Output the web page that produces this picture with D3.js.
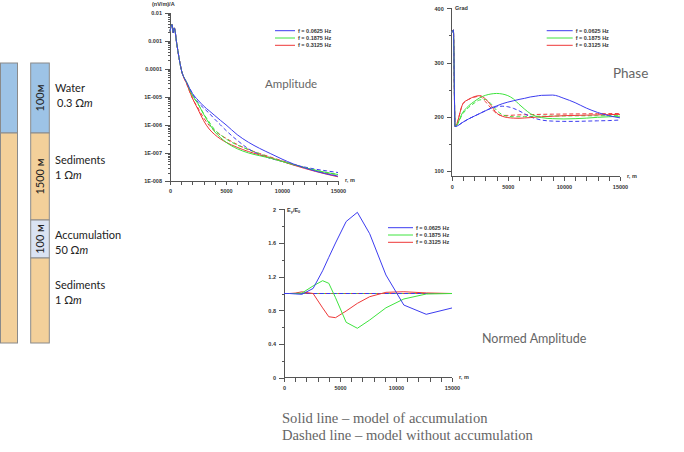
<!DOCTYPE html>
<html>
<head>
<meta charset="utf-8">
<script src="https://cdn.jsdelivr.net/npm/d3@7"></script>
<style>
body{margin:0;background:#fff}
svg{display:block}
.axis path,.axis line{stroke:#555;stroke-width:1;shape-rendering:crispEdges}
.axis text{font-family:"Liberation Sans",Arial,sans-serif;font-size:5.5px;font-weight:bold;fill:#333}
.small{font-family:"Liberation Sans",Arial,sans-serif;font-size:5.5px;font-weight:bold;fill:#333}
.lbl{font-family:Lato,"Open Sans",sans-serif;fill:#222}
.ttl{font-family:Lato,"Open Sans",sans-serif;fill:#666}
</style>
</head>
<body>
<script>
const WIDTH=684, HEIGHT=452;

const FREQS=["f = 0.0625 Hz","f = 0.1875 Hz","f = 0.3125 Hz"];
const COLORS=["#3c3cf0","#3ee43e","#ee3838"];

// amplitude, (nV/m)/A
const ampR=[0,180,300,380,600,800,1000,1500,2000,2500,3000,3500,4000,4500,5000,6000,7000,8000,9000,10000,11000,12000,13000,14000,15000];
const ampBlue=[2.14e-3,3.72e-3,1.86e-3,2.82e-3,7.94e-4,2.51e-4,9.55e-5,3.16e-5,1.32e-5,7.59e-6,4.68e-6,3.16e-6,2.14e-6,1.45e-6,1.0e-6,4.47e-7,2.40e-7,1.45e-7,9.33e-8,6.03e-8,4.07e-8,2.95e-8,2.24e-8,1.78e-8,1.48e-8];
const ampBlueDash=[2.14e-3,3.72e-3,1.86e-3,2.82e-3,7.94e-4,2.51e-4,9.55e-5,3.16e-5,1.32e-5,6.31e-6,3.98e-6,2.57e-6,1.58e-6,1.0e-6,6.31e-7,2.82e-7,1.41e-7,8.71e-8,6.31e-8,5.01e-8,3.80e-8,3.16e-8,2.63e-8,2.29e-8,2.0e-8];
const ampGreen=[2.14e-3,3.72e-3,1.86e-3,2.82e-3,7.94e-4,2.51e-4,9.55e-5,3.16e-5,1.12e-5,5.62e-6,2.40e-6,1.12e-6,5.62e-7,3.55e-7,2.40e-7,1.41e-7,1.0e-7,7.94e-8,6.46e-8,5.01e-8,3.89e-8,3.02e-8,2.40e-8,2.0e-8,1.70e-8];
const ampGreenDash=[2.14e-3,3.72e-3,1.86e-3,2.82e-3,7.94e-4,2.51e-4,9.55e-5,3.16e-5,1.12e-5,5.62e-6,2.51e-6,1.26e-6,6.61e-7,4.47e-7,3.16e-7,1.91e-7,1.32e-7,9.33e-8,6.76e-8,5.01e-8,3.80e-8,3.02e-8,2.40e-8,2.0e-8,1.70e-8];
const ampRed=[2.14e-3,3.72e-3,1.86e-3,2.82e-3,7.94e-4,2.51e-4,9.55e-5,2.82e-5,8.91e-6,3.55e-6,1.41e-6,7.08e-7,4.47e-7,3.16e-7,2.40e-7,1.58e-7,1.12e-7,8.51e-8,6.61e-8,5.01e-8,3.72e-8,2.82e-8,2.19e-8,1.74e-8,1.41e-8];
const ampRedDash=[2.14e-3,3.72e-3,1.86e-3,2.82e-3,7.94e-4,2.51e-4,9.55e-5,2.82e-5,8.91e-6,3.98e-6,1.78e-6,9.55e-7,6.03e-7,4.37e-7,3.31e-7,2.0e-7,1.32e-7,9.55e-8,7.08e-8,5.25e-8,3.98e-8,3.02e-8,2.34e-8,1.86e-8,1.51e-8];
const ampTicks=[1e-2,1e-3,1e-4,1e-5,1e-6,1e-7,1e-8];
const ampTickLabels=["0.01","0.001","0.0001","1E-005","1E-006","1E-007","1E-008"];

// phase, grad
const phR=[0,150,300,1000,1500,2000,2500,3000,3500,4000,4500,5000,5500,6000,6500,7000,7500,8000,9000,10000,11000,12000,13000,14000,15000];
const phBlue=[355,360,182,190,196,201,206,211,216,220,224,227,229.5,232,234,236.5,238,239.5,240,234,226,216,208,202,198];
const phBlueDash=[355,360,182,190,196,201,206,211,215.5,218.5,219.5,218.5,215.5,211,205.5,200,196.5,194,192,191.5,191.5,192,192.5,193,194];
const phGreen=[355,360,182,208.5,220,228,235,239.5,242,243,242,239,233,223,214,206,201,198.5,196.5,196,196.5,197.5,199,200,201];
const phGreenDash=[355,360,182,206,217,225,231,232,224,212,204,201,200,200,200.2,200.5,200.8,201,201.3,201.5,201.7,201.8,201.9,202,202];
const phRed=[355,360,182,224,232,237,239,233,221,207,201,198.5,197.5,197.2,197.8,198.5,199.3,200,201,202,202.5,203,203.5,204,204.5];
const phRedDash=[355,360,182,224,232,236,238,228,216,206,202.5,202.5,203,203.5,203.8,204,204.2,204.5,204.8,205,205.2,205.4,205.6,205.8,206];

// normed amplitude Ey/E0
const nmR=[0,500,1000,1600,2600,3450,4000,4600,5550,6550,7650,9100,10700,12700,15000];
const nmBlue=[1.0,1.0,0.995,0.99,1.06,1.27,1.43,1.6,1.855,1.964,1.71,1.22,0.863,0.753,0.828];
const nmGreen=[1.0,1.0,1.0,1.005,1.09,1.152,1.121,0.95,0.658,0.587,0.685,0.83,0.935,0.994,1.0];
const nmRed=[1.0,1.0,1.005,1.02,1.0,0.829,0.724,0.713,0.792,0.883,0.962,1.014,1.021,1.007,1.0];
const nmRefR=[0,15000];
const nmRef=[1.0,1.0];

// geoelectric model
const layers1=[{fill:"#9dc3e6",h:70},{fill:"#f3d09a",h:210}];
const layers2=[{fill:"#9dc3e6",h:70,tag:"100м"},{fill:"#f3d09a",h:87,tag:"1500 м"},{fill:"#dae3f3",h:38,tag:"100 м"},{fill:"#f3d09a",h:85,tag:""}];
const modelText=[["Water","0.3 "],["Sediments","1 "],["Accumulation","50 "],["Sediments","1 "]];

let svg=d3.select("body").append("svg").attr("width",WIDTH).attr("height",HEIGHT);

function panel(o){
    let g=svg.append("g");
    let x=d3.scaleLinear().domain([0,15000]).range([o.x0,o.x1]);
    let y=o.y;
    // x axis
    let gx=g.append("g").attr("class","axis").attr("transform",`translate(0,${o.yAxis})`)
        .call(d3.axisBottom(x).tickValues(d3.range(0,15001,1000)).tickSize(4).tickPadding(4)
            .tickFormat(d=>d%5000===0?d:""));
    gx.select(".domain").attr("d",`M${o.x0},0H${o.x1}`);
    // y axis
    let gy=g.append("g").attr("class","axis").attr("transform",`translate(${o.x0},0)`)
        .call(d3.axisLeft(y).tickValues(o.yTicks).tickSize(5).tickPadding(3).tickFormat(o.yFormat));
    gy.select(".domain").attr("d",`M0,${o.yTop}V${o.yAxis}`);
    gy.selectAll(".tick").filter(d=>o.yFormat(d)==="").select("line").attr("x2",-2.5);

    g.append("text").attr("class","small").attr("x",o.x1+7).attr("y",o.yAxis+1).text("r, m");

    let line=(xs)=>d3.line().x((d,i)=>x(xs[i])).y(d=>y(d)).curve(o.curve);
    o.series.forEach(s=>{
        g.append("path").datum(s.v)
            .attr("d",line(s.r))
            .attr("fill","none")
            .attr("stroke",s.c)
            .attr("stroke-width",1)
            .attr("stroke-dasharray",s.dash?"4,2.5":null)
            .attr("stroke-dashoffset",s.off||0);
    });
    // legend
    FREQS.forEach((f,i)=>{
        let ly=o.legY+i*7.3;
        g.append("line").attr("x1",o.legX).attr("x2",o.legX+o.legW).attr("y1",ly).attr("y2",ly)
            .attr("stroke",COLORS[i]).attr("stroke-width",1);
        g.append("text").attr("class","small").attr("x",o.legX+o.legW+3).attr("y",ly+2).text(f);
    });
    return g;
}

function sol(r,v,i){return {r:r,v:v,c:COLORS[i]};}
function dsh(r,v,i,off){return {r:r,v:v,c:COLORS[i],dash:true,off:off||0};}

// Amplitude
let yAmp=d3.scaleLog().domain([1e-8,1e-2]).range([181,12.5]);
let ampMinor=[];
for(let k=-8;k<=-3;k++) for(let m=2;m<=9;m++) ampMinor.push(m*Math.pow(10,k));
let gA=panel({x0:170,x1:338,y:yAmp,yAxis:181,yTop:12.5,
    yTicks:ampTicks.concat(ampMinor),
    yFormat:d=>{let i=ampTicks.findIndex(t=>Math.abs(t-d)/t<1e-6);return i<0?"":ampTickLabels[i];},
    curve:d3.curveMonotoneX,
    series:[dsh(ampR,ampRedDash,2),dsh(ampR,ampGreenDash,1,2),dsh(ampR,ampBlueDash,0),
            sol(ampR,ampRed,2),sol(ampR,ampGreen,1),sol(ampR,ampBlue,0)],
    legX:275,legW:20,legY:30.7});
gA.append("text").attr("class","small").attr("x",152).attr("y",6).text("(nV/m)/A");
gA.append("text").attr("class","ttl").attr("x",265).attr("y",88).attr("font-size",11.5).text("Amplitude");

// Phase
let yPh=d3.scaleLinear().domain([89.5,400]).range([176.7,8.3]);
let gP=panel({x0:451.7,x1:620,y:yPh,yAxis:176.7,yTop:8.3,
    yTicks:d3.range(100,401,50),
    yFormat:d=>d%100===0?String(d):"",
    curve:d3.curveMonotoneX,
    series:[dsh(phR,phRedDash,2),dsh(phR,phGreenDash,1,2),dsh(phR,phBlueDash,0),
            sol(phR,phRed,2),sol(phR,phGreen,1),sol(phR,phBlue,0)],
    legX:546.7,legW:26,legY:30.7});
gP.append("text").attr("class","small").attr("x",455).attr("y",10).text("Grad");
gP.append("text").attr("class","ttl").attr("x",613).attr("y",78).attr("font-size",13.5).text("Phase");

// Normed amplitude
let yNm=d3.scaleLinear().domain([0,2]).range([377.7,209.3]);
let gN=panel({x0:284,x1:452,y:yNm,yAxis:377.7,yTop:209.3,
    yTicks:d3.range(0,2.001,0.2).map(d=>+d.toFixed(1)),
    yFormat:d=>(Math.round(d*10)%4===0)?String(+d.toFixed(1)):"",
    curve:d3.curveLinear,
    series:[dsh(nmRefR,nmRef,2),dsh(nmRefR,nmRef,1,2),dsh(nmRefR,nmRef,0,3.2),
            sol(nmR,nmRed,2),sol(nmR,nmGreen,1),sol(nmR,nmBlue,0)],
    legX:388,legW:25,legY:227.7});
let eT=gN.append("text").attr("class","small").attr("x",287).attr("y",212);
eT.append("tspan").text("E");
eT.append("tspan").attr("font-size",4).attr("dy",1.2).text("y");
eT.append("tspan").attr("dy",-1.2).text("/E");
eT.append("tspan").attr("font-size",4).attr("dy",1.2).text("0");
gN.append("text").attr("class","ttl").attr("x",482).attr("y",342.5).attr("font-size",12.5).text("Normed Amplitude");

// notes
let notes=svg.append("g").attr("font-family","'Liberation Serif','Times New Roman',serif").attr("font-size",14.6).attr("fill","#666");
notes.append("text").attr("x",282).attr("y",423).text("Solid line \u2013 model of accumulation");
notes.append("text").attr("x",282).attr("y",440).text("Dashed line \u2013 model without accumulation");

// model columns
let gm=svg.append("g");
function column(layers,x,w){
    let yy=63;
    layers.forEach(l=>{
        gm.append("rect").attr("x",x).attr("y",yy).attr("width",w).attr("height",l.h)
            .attr("fill",l.fill).attr("stroke","#8a8a8a").attr("stroke-width",1);
        if(l.tag){
            gm.append("text").attr("class","lbl").attr("font-size",11)
                .attr("text-anchor","middle")
                .attr("transform",`translate(${x+w/2+4},${yy+l.h/2}) rotate(-90)`)
                .text(l.tag);
        }
        yy+=l.h;
    });
}
column(layers1,0.5,17);
column(layers2,30.7,18.6);
const textY=[92,164,239,289];
modelText.forEach((t,i)=>{
    gm.append("text").attr("class","lbl").attr("font-size",11).attr("x",55).attr("y",textY[i]).text(t[0]);
    let s=gm.append("text").attr("class","lbl").attr("font-size",11).attr("x",i===0?57:55).attr("y",textY[i]+15);
    s.append("tspan").text(t[1]+"\u03A9");
    s.append("tspan").attr("font-style","italic").text("m");
});
</script>
</body>
</html>
